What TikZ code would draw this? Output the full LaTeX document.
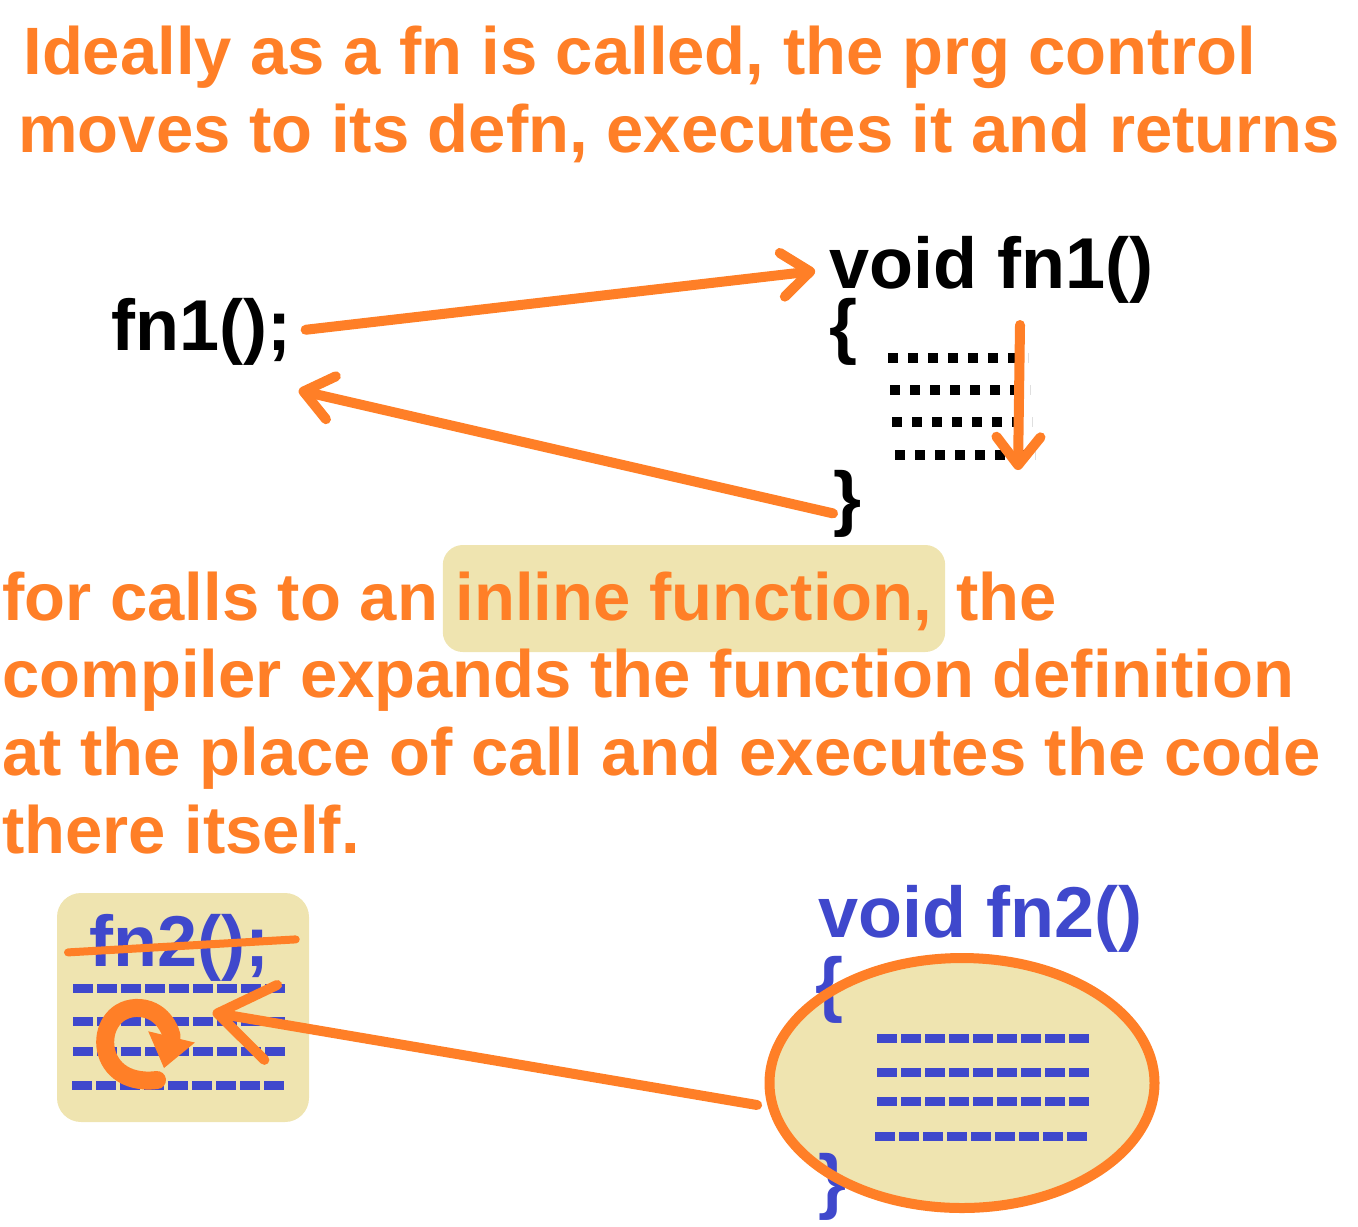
\documentclass[tikz,border=0pt]{standalone}
\usepackage{fontspec}
\setmainfont{Liberation Sans}
\usetikzlibrary{arrows.meta,shapes.geometric,positioning}
\definecolor{pnorange}{RGB}{255,127,39}
\definecolor{pntan}{RGB}{239,228,176}
\definecolor{pnblue}{RGB}{63,72,204}

\begin{document}
\begin{tikzpicture}[x=0.5pt, y=-0.5pt,
    notetxt/.style={text=pnorange, font=\fontsize{33.5}{40}\selectfont\bfseries, inner sep=0pt, anchor=base west},
    codetxt/.style={font=\fontsize{36}{43}\selectfont\bfseries, inner sep=0pt, anchor=base west},
    flowarr/.style={draw=pnorange, line width=5pt, line cap=round, -{Straight Barb[length=14pt, width=22pt, round]}},
    dotrow/.style={line width=5pt, dash pattern=on 5pt off 5pt},
    barrow/.style={pnblue, line width=4.5pt, dash pattern=on 10pt off 2pt}]
  \useasboundingbox (0,0) rectangle (1358,1226);

  % Intro text
  \node[notetxt] (intro1) at (23,74) {Ideally as a fn is called, the prg control};
  \node[notetxt] (intro2) at (18,152) {moves to its defn, executes it and returns};

  % Normal call
  \node[codetxt] (call1) at (111,350) {fn1();};
  \node[codetxt] (head1) at (829,288) {void fn1()};
  \node[codetxt] (open1) at (829,350) {\{};
  \node[codetxt] (close1) at (833,522) {\}};
  \foreach \y/\x in {358/888, 390/890, 422/892, 455/895}
    \draw[dotrow] (\x,\y) -- ++(140,0);
  \coordinate (run0) at (1020,325);
  \coordinate (run1) at (1018,470);
  \draw[flowarr] (run0) -- (run1);
  \draw[flowarr, shorten <=7pt, shorten >=7pt] (call1.east) -- (head1.west);
  \draw[flowarr] ([yshift=-5pt]close1.west) -- ([shift={(3.5pt,-12.5pt)}]call1.south east);

  % Inline text
  \node[notetxt] (inl1) at (2,620) {for calls to an};
  \node[notetxt, fill=pntan, rounded corners=10pt, inner xsep=6.5pt, text height=37.5pt, text depth=16pt] (hl) at ([xshift=2pt]inl1.base east) {inline function,};
  \node[notetxt] (inl2) at ([xshift=5pt]hl.base east) {the};
  \node[notetxt] (inl3) at (2,697) {compiler expands the function definition};
  \node[notetxt] (inl4) at (2,775) {at the place of call and executes the code};
  \node[notetxt] (inl5) at (2,853) {there itself.};

  % Expanded call
  \node[fill=pntan, rounded corners=12pt, minimum width=126pt, minimum height=114.5pt] (site) at (183,1007.5) {};
  \node[codetxt, text=pnblue] (call2) at (89,966) {fn2();};
  \foreach \y/\x in {988/73, 1021/73, 1051/73, 1085/72}
    \draw[barrow] (\x,\y) -- ++(212,0);
  \draw[pnorange, line width=4pt, line cap=round] ([shift={(-10.5pt,-2.5pt)}]call2.west) -- ([shift={(13pt,4pt)}]call2.east);
  \draw[pnorange, line width=9pt, line cap=round, -{Triangle[length=16pt, width=24pt, line width=0pt]}]
    (157,1080) .. controls (90,1088) and (92,1005) .. (140,1008) .. controls (165,1010) and (172,1035) .. (164,1068);

  % Expanded definition
  \node[ellipse, fill=pntan, minimum width=192.5pt, minimum height=125pt, inner sep=0pt] (body) at (962,1083) {};
  \node[codetxt, text=pnblue] (head2) at (818,937) {void fn2()};
  \node[codetxt, text=pnblue] (open2) at (815,1008) {\{};
  \node[codetxt, text=pnblue] (close2) at (818,1205) {\}};
  \foreach \y/\x in {1038/877, 1072/877, 1101/877, 1136/875}
    \draw[barrow] (\x,\y) -- ++(212,0);
  \draw[pnorange, line width=5pt] (body.center) ellipse [x radius=96.25pt, y radius=62.5pt];
  \draw[flowarr, -{Straight Barb[length=27pt, width=38pt, round]}, shorten >=15pt] ([shift={(-6pt,-11pt)}]body.west) -- (site.center);
\end{tikzpicture}
\end{document}
